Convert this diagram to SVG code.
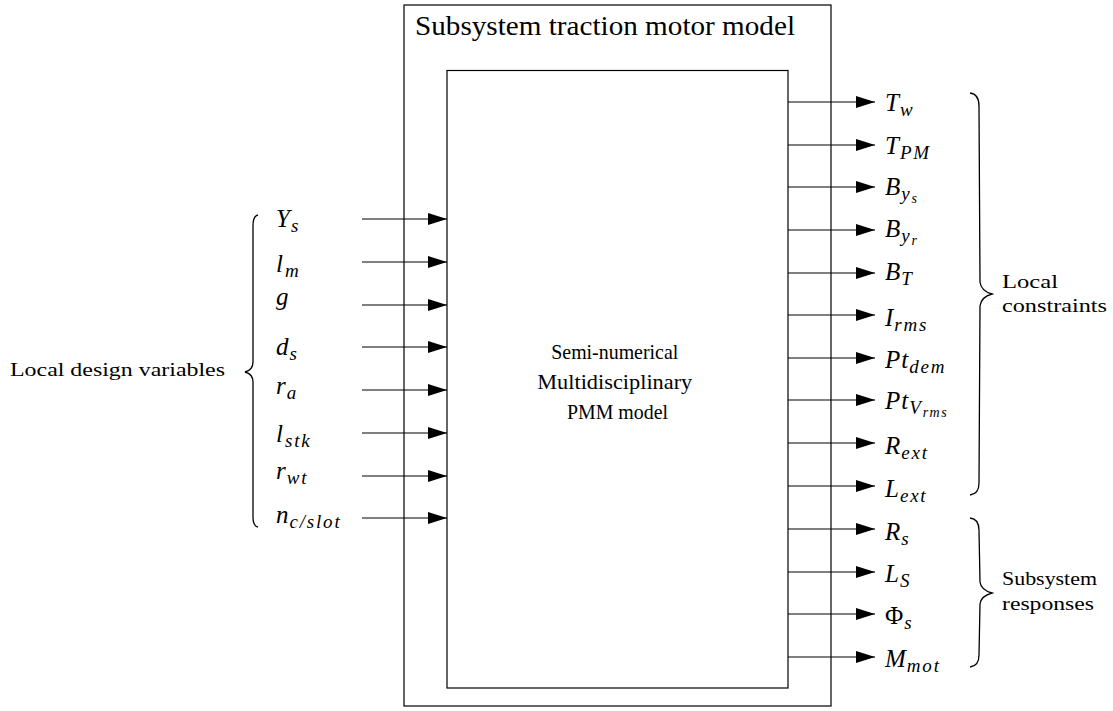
<svg xmlns="http://www.w3.org/2000/svg" width="1113" height="711" viewBox="0 0 1113 711">
<defs>
<marker id="ah" markerWidth="19" markerHeight="12" refX="19" refY="6" orient="auto" markerUnits="userSpaceOnUse">
<path d="M0,0 L19,6 L0,12 Z" fill="#000"/>
</marker>
<style>
.box{fill:none;stroke:#000;stroke-width:1.2}
.conn{stroke:#000;stroke-width:1.2;fill:none;marker-end:url(#ah)}
.brace{fill:none;stroke:#000;stroke-width:1.3}
.rm{font-family:"Liberation Serif","Times New Roman",serif;fill:#000}
.mi{font-family:"Liberation Serif","Times New Roman",serif;font-style:italic;font-size:25px;fill:#000;letter-spacing:1px}
.sub{font-size:19px;letter-spacing:1.8px}
.ss{font-size:14px;letter-spacing:1.5px}
.up{font-style:normal}
</style>
</defs>
<rect width="1113" height="711" fill="#fff"/>

<g id="outer">
<rect class="box" x="404" y="5" width="427" height="701"/>
<text class="rm" x="415" y="35" font-size="27" textLength="380" lengthAdjust="spacingAndGlyphs">Subsystem traction motor model</text>
</g>

<g id="pmm">
<rect class="box" x="447" y="70.5" width="341" height="617.5"/>
<text class="rm" font-size="22" text-anchor="middle">
<tspan x="617.5" y="359" textLength="127" lengthAdjust="spacingAndGlyphs">Semi-numerical</tspan>
<tspan x="617.5" y="389" textLength="155" lengthAdjust="spacingAndGlyphs">Multidisciplinary</tspan>
<tspan x="617.5" y="419" textLength="101" lengthAdjust="spacingAndGlyphs">PMM model</tspan>
</text>
</g>

<g id="connectors">
<line class="conn" x1="362" y1="219" x2="447" y2="219"/>
<line class="conn" x1="362" y1="262" x2="447" y2="262"/>
<line class="conn" x1="362" y1="305" x2="447" y2="305"/>
<line class="conn" x1="362" y1="347" x2="447" y2="347"/>
<line class="conn" x1="362" y1="390" x2="447" y2="390"/>
<line class="conn" x1="362" y1="433" x2="447" y2="433"/>
<line class="conn" x1="362" y1="476" x2="447" y2="476"/>
<line class="conn" x1="362" y1="518" x2="447" y2="518"/>

<line class="conn" x1="788" y1="102" x2="875" y2="102"/>
<line class="conn" x1="788" y1="145" x2="875" y2="145"/>
<line class="conn" x1="788" y1="187" x2="875" y2="187"/>
<line class="conn" x1="788" y1="230" x2="875" y2="230"/>
<line class="conn" x1="788" y1="273" x2="875" y2="273"/>
<line class="conn" x1="788" y1="315" x2="875" y2="315"/>
<line class="conn" x1="788" y1="358" x2="875" y2="358"/>
<line class="conn" x1="788" y1="400" x2="875" y2="400"/>
<line class="conn" x1="788" y1="443" x2="875" y2="443"/>
<line class="conn" x1="788" y1="486" x2="875" y2="486"/>
<line class="conn" x1="788" y1="529" x2="875" y2="529"/>
<line class="conn" x1="788" y1="572" x2="875" y2="572"/>
<line class="conn" x1="788" y1="614" x2="875" y2="614"/>
<line class="conn" x1="788" y1="657" x2="875" y2="657"/>
</g>

<g id="inputs">
<text class="mi" x="276" y="227">Y<tspan class="sub" dy="5">s</tspan></text>
<text class="mi" x="276" y="272">l<tspan class="sub" dy="5" dx="1">m</tspan></text>
<text class="mi" x="276" y="305">g</text>
<text class="mi" x="276" y="355">d<tspan class="sub" dy="5">s</tspan></text>
<text class="mi" x="276" y="394">r<tspan class="sub" dy="5">a</tspan></text>
<text class="mi" x="276" y="442">l<tspan class="sub" dy="5" dx="1">stk</tspan></text>
<text class="mi" x="276" y="479">r<tspan class="sub" dy="5">wt</tspan></text>
<text class="mi" x="276" y="523">n<tspan class="sub" dy="5">c/slot</tspan></text>
</g>

<g id="design-variables">
<path class="brace" d="M258,215 Q253,216 253,226 L253,362 Q253,370 245,372 Q253,374 253,382 L253,517 Q253,526 258,527"/>
<text class="rm" x="10" y="376" font-size="19" textLength="215" lengthAdjust="spacingAndGlyphs">Local design variables</text>
</g>

<g id="outputs">
<text class="mi" x="885" y="111">T<tspan class="sub" dy="5">w</tspan></text>
<text class="mi" x="885" y="154">T<tspan class="sub" dy="5">PM</tspan></text>
<text class="mi" x="885" y="195">B<tspan class="sub" dy="5">y</tspan><tspan class="ss" dy="3">s</tspan></text>
<text class="mi" x="885" y="237">B<tspan class="sub" dy="5">y</tspan><tspan class="ss" dy="3">r</tspan></text>
<text class="mi" x="885" y="280">B<tspan class="sub" dy="5">T</tspan></text>
<text class="mi" x="885" y="326">I<tspan class="sub" dy="5">rms</tspan></text>
<text class="mi" x="885" y="368">Pt<tspan class="sub" dy="5">dem</tspan></text>
<text class="mi" x="885" y="409">Pt<tspan class="sub" dy="5">V</tspan><tspan class="ss" dy="3">rms</tspan></text>
<text class="mi" x="885" y="454">R<tspan class="sub" dy="5">ext</tspan></text>
<text class="mi" x="885" y="497">L<tspan class="sub" dy="5">ext</tspan></text>
<text class="mi" x="885" y="540">R<tspan class="sub" dy="5">s</tspan></text>
<text class="mi" x="885" y="582">L<tspan class="sub" dy="5">S</tspan></text>
<text class="mi" x="885" y="624"><tspan class="up">Φ</tspan><tspan class="sub" dy="5">s</tspan></text>
<text class="mi" x="885" y="667">M<tspan class="sub" dy="5">mot</tspan></text>
</g>

<g id="local-constraints">
<path class="brace" d="M970,93 Q979,94 979,106 L980,282 Q981,291 992,294 Q981,297 980,306 L979,483 Q979,494 970,495"/>
<text class="rm" font-size="19">
<tspan x="1002" y="288" textLength="56" lengthAdjust="spacingAndGlyphs">Local</tspan>
<tspan x="1002" y="312" textLength="105" lengthAdjust="spacingAndGlyphs">constraints</tspan>
</text>
</g>

<g id="subsystem-responses">
<path class="brace" d="M970,518 Q979,519 979,530 L980,582 Q981,590 992,593 Q981,596 980,604 L979,655 Q979,666 970,667"/>
<text class="rm" font-size="19">
<tspan x="1002" y="585" textLength="95" lengthAdjust="spacingAndGlyphs">Subsystem</tspan>
<tspan x="1002" y="610" textLength="92" lengthAdjust="spacingAndGlyphs">responses</tspan>
</text>
</g>
</svg>
